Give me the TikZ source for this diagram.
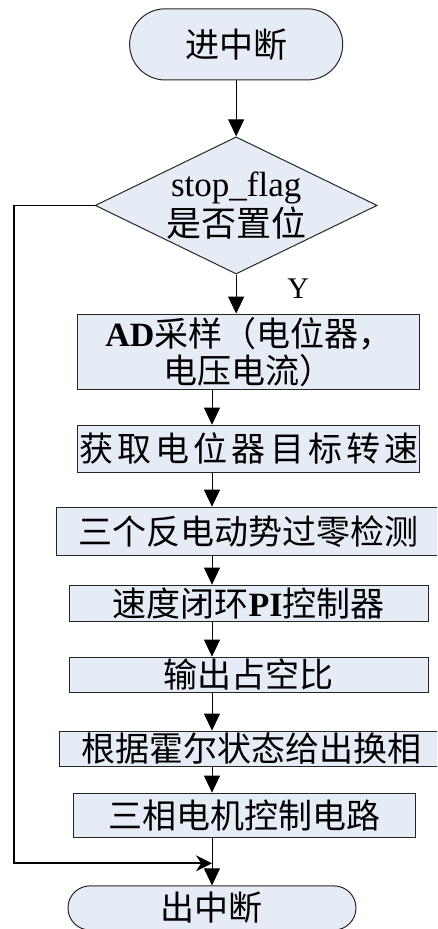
\documentclass[tikz,border=0pt]{standalone}
\usepackage{fontspec}
\setmainfont{Liberation Serif}
\newfontfamily\cjk{Noto Sans CJK SC}
\newcommand\latinbf[1]{{\rmfamily\bfseries #1}}
\usetikzlibrary{shapes.geometric,arrows.meta}
\definecolor{boxblue}{RGB}{230,236,246}

\begin{document}
\begin{tikzpicture}[line width=0.8pt,
    proc/.style={draw=black!85, fill=boxblue, line width=1pt, inner sep=0pt,
        align=center, font=\fontsize{34}{37}\selectfont\cjk},
    term/.style={proc, minimum height=2.5cm, rounded corners=1.25cm},
    decide/.style={diamond, draw=black!85, fill=boxblue, line width=1pt,
        minimum width=9.91cm, minimum height=4.82cm, inner sep=0pt},
    arr/.style={-{Triangle[length=17pt,width=16pt]}},
    back/.style={line width=1.8pt, -{Stealth[length=16pt,width=16pt]}}]
        \clip (0,0) rectangle (15.36,-32.65);

        % 画各个框
        \node[term, minimum width=7.49cm] (start) at (8.30,-1.56) {进中断};
        \node[decide] (flag) at (8.30,-7.22) {};
        \node[align=center, font=\fontsize{35}{40}\selectfont] (flagtext) at (flag)
            {stop\_flag\\{\cjk 是否置位}};
        \node[proc, minimum width=12.02cm, minimum height=2.64cm] (ad) at (8.75,-12.36)
            {\latinbf{AD}采样（电位器，\\电压电流）};
        \node[proc, minimum width=12.02cm, minimum height=1.65cm] (speed) at (8.75,-15.77)
            {\addfontfeature{LetterSpace=12}获取电位器目标转速};
        \node[proc, minimum width=13.50cm, minimum height=1.69cm] (zero) at (8.75,-18.67)
            {三个反电动势过零检测};
        \node[proc, minimum width=12.62cm, minimum height=1.27cm] (pi) at (8.74,-21.20)
            {速度闭环\latinbf{PI}控制器};
        \node[proc, minimum width=12.65cm, minimum height=1.23cm] (duty) at (8.75,-23.71)
            {输出占空比};
        \node[proc, minimum width=13.50cm, minimum height=1.23cm] (hall) at (8.85,-26.31)
            {根据霍尔状态给出换相};
        \node[proc, minimum width=12.02cm, minimum height=1.55cm] (motor) at (8.61,-28.65)
            {三相电机控制电路};
        \node[proc, minimum width=10.12cm, minimum height=1.55cm, rounded corners=0.77cm]
            (exit) at (7.45,-31.91) {出中断};

        % 主流程箭头
        \coordinate (axis) at (7.45,0);
        \draw[arr] (start.south) -- (flag.north);
        \draw[arr] (flag.south) -- (flag.south |- ad.north);
        \node[font=\fontsize{30}{30}\selectfont] (yes) at (10.48,-10.13) {Y};
        \draw[arr] (ad.south -| axis) -- (speed.north -| axis);
        \draw[arr] (speed.south -| axis) -- (zero.north -| axis);
        \draw[arr] (zero.south -| axis) -- (pi.north -| axis);
        \draw[arr] (pi.south -| axis) -- (duty.north -| axis);
        \draw[arr] (duty.south -| axis) -- (hall.north -| axis);
        \draw[arr] (hall.south -| axis) -- (motor.north -| axis);
        \draw[arr] (motor.south -| axis) -- (exit.north);

        % 未置位时直接出中断
        \coordinate (left) at (0.49,0);
        \coordinate (join) at (7.45,-30.34);
        \draw[back] (flag.west) -- (flag.west -| left) |- (join);
    \end{tikzpicture}
\end{document}
